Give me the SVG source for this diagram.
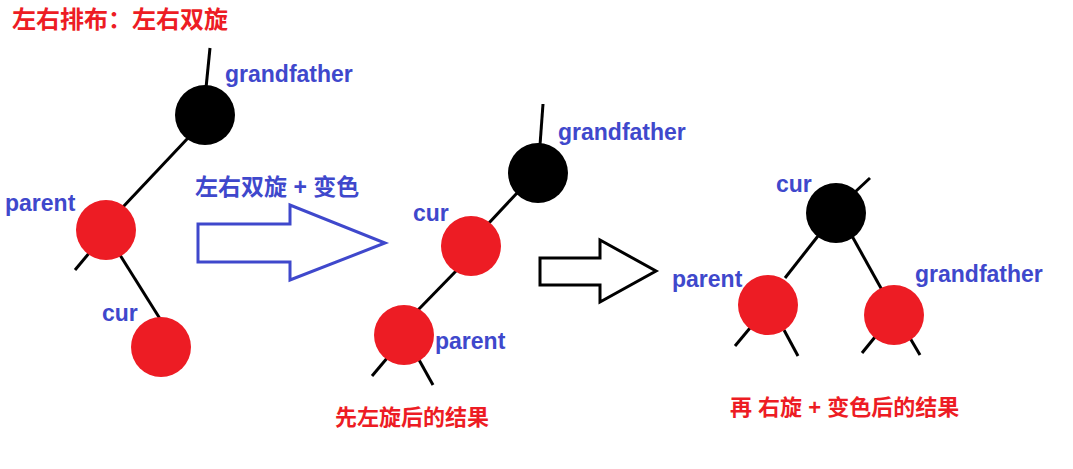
<svg xmlns="http://www.w3.org/2000/svg" width="1073" height="469" viewBox="0 0 1073 469">
<style>
text{font-family:"Liberation Sans","Noto Sans CJK SC",sans-serif;font-weight:bold}
.b{fill:#3f48cc;font-size:23px}
.r{fill:#ed1c24;font-size:22px}
.red{fill:#ed1c24}
.blk{fill:#000}
.e{stroke:#000;stroke-width:3;fill:none}
</style>
<rect width="1073" height="469" fill="#fff"/>
<text class="r" x="12" y="28" font-size="24" style="font-size:24px">左右排布：左右双旋</text>
<g id="connectors">
<line class="e" x1="210" y1="48" x2="206" y2="88"/>
<line class="e" x1="188" y1="138" x2="122" y2="208"/>
<line class="e" x1="90" y1="252" x2="75" y2="270"/>
<line class="e" x1="120" y1="255" x2="162" y2="322"/>
<line class="e" x1="543" y1="104" x2="540" y2="145"/>
<line class="e" x1="518" y1="192" x2="488" y2="224"/>
<line class="e" x1="457" y1="270" x2="418" y2="310"/>
<line class="e" x1="388" y1="357" x2="372" y2="376"/>
<line class="e" x1="418" y1="358" x2="433" y2="385"/>
<line class="e" x1="855" y1="192" x2="870" y2="178"/>
<line class="e" x1="818" y1="236" x2="785" y2="278"/>
<line class="e" x1="852" y1="236" x2="882" y2="290"/>
<line class="e" x1="750" y1="328" x2="735" y2="346"/>
<line class="e" x1="784" y1="330" x2="798" y2="356"/>
<line class="e" x1="875" y1="337" x2="862" y2="353"/>
<line class="e" x1="910" y1="338" x2="920" y2="355"/>
<polygon points="198,224 290,224 290,205 385,243 290,280 290,262 198,262" fill="none" stroke="#3f48cc" stroke-width="3"/>
<polygon points="540,258 600,258 600,240 656,271 600,302 600,285 540,285" fill="none" stroke="#000" stroke-width="3"/>
</g>
<g id="t1-grandfather"><circle class="blk" cx="205" cy="115" r="30"/><text class="b" x="225" y="82">grandfather</text></g>
<g id="t1-parent"><circle class="red" cx="106" cy="230" r="30"/><text class="b" x="5" y="211">parent</text></g>
<g id="t1-cur"><circle class="red" cx="161" cy="347" r="30"/><text class="b" x="102" y="321">cur</text></g>
<text class="b" x="195" y="195">左右双旋 + 变色</text>
<g id="t2-grandfather"><circle class="blk" cx="538" cy="173" r="30"/><text class="b" x="558" y="140">grandfather</text></g>
<g id="t2-cur"><circle class="red" cx="471" cy="246" r="30"/><text class="b" x="413" y="221">cur</text></g>
<g id="t2-parent"><circle class="red" cx="404" cy="335" r="30"/><text class="b" x="435" y="349">parent</text></g>
<text class="r" x="335" y="425">先左旋后的结果</text>
<g id="t3-cur"><circle class="blk" cx="836" cy="213" r="30"/><text class="b" x="776" y="192">cur</text></g>
<g id="t3-parent"><circle class="red" cx="768" cy="305" r="30"/><text class="b" x="672" y="287">parent</text></g>
<g id="t3-grandfather"><circle class="red" cx="894" cy="315" r="30"/><text class="b" x="915" y="282">grandfather</text></g>
<text class="r" x="730" y="415">再 右旋 + 变色后的结果</text>
</svg>
